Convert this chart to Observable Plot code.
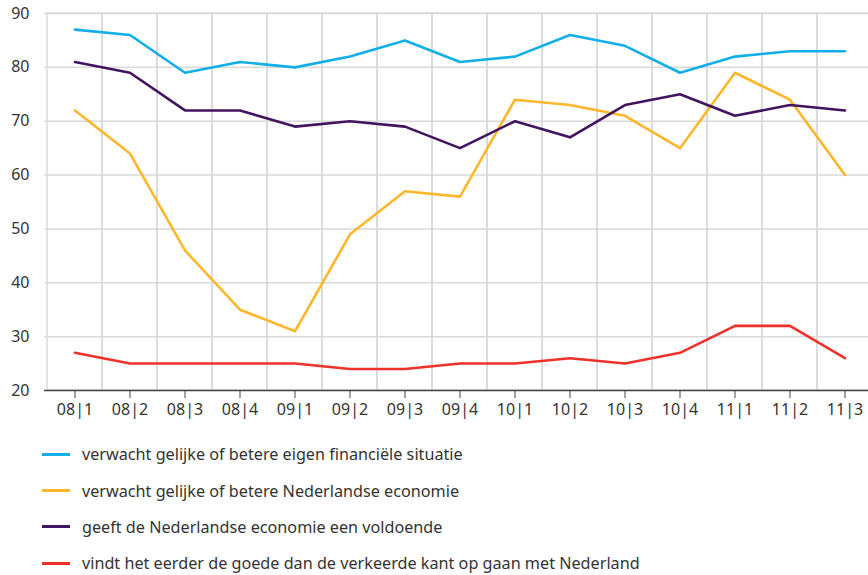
<!DOCTYPE html>
<html>
<head>
<meta charset="utf-8">
<script src="https://cdn.jsdelivr.net/npm/d3@7"></script>
<script src="https://cdn.jsdelivr.net/npm/@observablehq/plot@0.6"></script>
<style>
  body { margin: 0; background: #fff; font-family: "Noto Sans", sans-serif; }
  #legend { margin-top: 6px; }
  .row { display: flex; align-items: center; height: 36.4px; color: #333; font-size: 16.2px; }
  .sw { width: 28px; height: 3px; margin-left: 42px; margin-right: 12px; }
</style>
</head>
<body>
<div id="chart"></div>
<div id="legend"></div>
<script>
const categories = ["08|1","08|2","08|3","08|4","09|1","09|2","09|3","09|4","10|1","10|2","10|3","10|4","11|1","11|2","11|3"];
const seriesNames = [
  "verwacht gelijke of betere eigen financiële situatie",
  "verwacht gelijke of betere Nederlandse economie",
  "geeft de Nederlandse economie een voldoende",
  "vindt het eerder de goede dan de verkeerde kant op gaan met Nederland"
];
const colors = ["#12aee8", "#ffb62b", "#42145f", "#ee3129"];
const financieel = [87, 86, 79, 81, 80, 82, 85, 81, 82, 86, 84, 79, 82, 83, 83];
const economie = [72, 64, 46, 35, 31, 49, 57, 56, 74, 73, 71, 65, 79, 74, 60];
const voldoende = [81, 79, 72, 72, 69, 70, 69, 65, 70, 67, 73, 75, 71, 73, 72];
const goedeKant = [27, 25, 25, 25, 25, 24, 24, 25, 25, 26, 25, 27, 32, 32, 26];
const yTicks = [20, 30, 40, 50, 60, 70, 80, 90];

const allSeries = [financieel, economie, voldoende, goedeKant];
const data = allSeries.flatMap((vals, s) => vals.map((v, i) => ({cat: categories[i], value: v, series: seriesNames[s]})));

const chart = Plot.plot({
  width: 868,
  height: 430,
  marginTop: 13,
  marginBottom: 40,
  marginLeft: 44,
  marginRight: 0,
  style: {fontFamily: "Noto Sans, sans-serif", fontSize: "16px", color: "#333"},
  x: {type: "band", domain: categories, range: [44, 874], padding: 0, label: null},
  y: {domain: [20, 90], ticks: yTicks, label: null},
  color: {domain: seriesNames, range: colors},
  marks: [
    Plot.cell(categories, {x: d => d, fill: "none", stroke: "#d9d9d9", strokeWidth: 1.5}),
    Plot.ruleY(yTicks.filter(t => t > 20), {stroke: "#d9d9d9", strokeWidth: 1.5}),
    Plot.ruleY([20], {stroke: "#444", strokeWidth: 1.5}),
    Plot.line(data, {x: "cat", y: "value", z: "series", stroke: "series", strokeWidth: 2.6}),
    Plot.axisX({tickSize: 8, tickPadding: 5, stroke: "#444", fontSize: 16, fill: "#333", tickFormat: d => d.replace("|", "\u200A|\u200A").replace(/\u200A/g, "")}),
    Plot.axisY({ticks: yTicks, tickSize: 0, tickPadding: 15, fontSize: 16, fill: "#333"})
  ]
});
document.getElementById("chart").appendChild(chart);

const legend = document.getElementById("legend");
seriesNames.forEach((name, i) => {
  const row = document.createElement("div");
  row.className = "row";
  const sw = document.createElement("div");
  sw.className = "sw";
  sw.style.background = colors[i];
  const t = document.createElement("span");
  t.textContent = name;
  row.appendChild(sw);
  row.appendChild(t);
  legend.appendChild(row);
});
</script>
</body>
</html>
